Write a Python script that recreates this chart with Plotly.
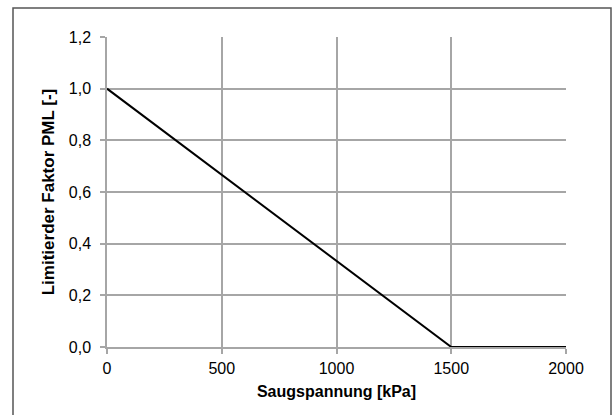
import plotly.graph_objects as go

saugspannung = [0, 1500, 2000]
faktor = [1.0, 0.0, 0.0]
x_ticks = [0, 500, 1000, 1500, 2000]
y_ticks = [0.0, 0.2, 0.4, 0.6, 0.8, 1.0, 1.2]

L, R, T, B = 107, 46, 37, 68
W, H = 612, 415
pw, ph = W - L - R, H - T - B

fig = go.Figure()
fig.add_trace(go.Scatter(x=saugspannung, y=faktor, mode="lines",
                         line=dict(color="black", width=2), showlegend=False))

grid = "#a6a6a6"
fam = "Liberation Sans"
tf = dict(family=fam, size=16, color="black")
fig.update_layout(
    width=W, height=H,
    margin=dict(l=L, r=R, t=T, b=B, autoexpand=False),
    paper_bgcolor="white", plot_bgcolor="white",
    separators=",.",
    font=dict(family=fam, size=16, color="black"),
    xaxis=dict(range=[0, 2000], tickvals=x_ticks, showgrid=True, gridcolor=grid, gridwidth=1.5,
               zeroline=False, showline=True, linecolor=grid, linewidth=1.5, automargin=False,
               ticks="outside", ticklen=5, tickcolor=grid, tickwidth=1.5, ticklabelstandoff=1,
               title=dict(text="<b>Saugspannung [kPa]</b>", standoff=10,
                          font=dict(family=fam, size=16)), tickfont=tf),
    yaxis=dict(range=[0, 1.2], tickvals=y_ticks, tickformat=".1f", showgrid=True, gridcolor=grid,
               gridwidth=1.5, zeroline=False, showline=True, linecolor=grid, linewidth=1.5,
               automargin=False,
               ticks="outside", ticklen=5, tickcolor=grid, tickwidth=1.5, ticklabelstandoff=6,
               title=dict(text="<b>Limitierder Faktor PML [-]</b>", standoff=10,
                          font=dict(family=fam, size=17)), tickfont=tf),
)
# outer chart border
fig.add_shape(type="rect", xref="paper", yref="paper",
              x0=(13 - L) / pw, x1=(611 - L) / pw,
              y0=-(418 - T - ph) / ph, y1=1 + (T - 8) / ph,
              line=dict(color="#555555", width=1.5), layer="below")
fig.write_html("out.html", config={"displayModeBar": False},
               post_script="document.body.style.margin='0px';")
